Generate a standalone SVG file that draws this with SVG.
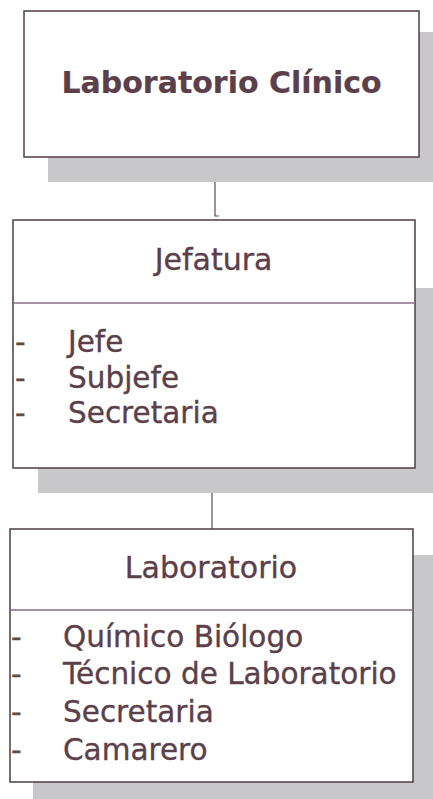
<svg xmlns="http://www.w3.org/2000/svg" width="433" height="799" viewBox="0 0 433 799">
  <style>
    .shadow { fill: #c8c7ca; }
    .box { fill: #ffffff; stroke: #4e3d45; stroke-width: 1.5; }
    .div { stroke: #8a6a86; stroke-width: 1.5; }
    .conn { fill: none; stroke: #5a4a52; stroke-width: 1.2; }
    text { font-family: "DejaVu Sans", Verdana, sans-serif; fill: #5b3f4b; stroke: #5b3f4b; stroke-width: 0.35; }
    .title { font-size: 30px; font-weight: bold; text-anchor: middle; stroke-width: 0.2; }
    .head { font-size: 30px; text-anchor: middle; }
    .item { font-size: 29.5px; }
    .dash { font-size: 29.5px; fill: #5a5040; stroke: #5a5040; }
  </style>
  <rect x="0" y="0" width="433" height="799" fill="#ffffff"/>
  <g id="connectors">
    <path class="conn" d="M215,157 V216 H219"/>
    <path class="conn" d="M212,468 V529"/>
  </g>
  <g id="node-laboratorio-clinico">
    <rect class="shadow" x="48" y="32" width="385" height="150"/>
    <rect class="box" x="24" y="11" width="395" height="146"/>
    <text class="title" x="221.5" y="93">Laboratorio Clínico</text>
  </g>
  <g id="node-jefatura">
    <rect class="shadow" x="38" y="288" width="395" height="205"/>
    <rect class="box" x="13" y="220" width="402" height="248"/>
    <line class="div" x1="13" y1="303" x2="415" y2="303"/>
    <text class="head" x="213.5" y="270">Jefatura</text>
    <text class="dash" x="15" y="352">-</text>
    <text class="item" x="68" y="352">Jefe</text>
    <text class="dash" x="15" y="388">-</text>
    <text class="item" x="68" y="388">Subjefe</text>
    <text class="dash" x="15" y="423">-</text>
    <text class="item" x="68" y="423">Secretaria</text>
  </g>
  <g id="node-laboratorio">
    <rect class="shadow" x="33" y="555" width="400" height="244"/>
    <rect class="box" x="10" y="529" width="403" height="253"/>
    <line class="div" x1="10" y1="610" x2="413" y2="610"/>
    <text class="head" x="211" y="578">Laboratorio</text>
    <text class="dash" x="11" y="647">-</text>
    <text class="item" x="63" y="647">Químico Biólogo</text>
    <text class="dash" x="11" y="684">-</text>
    <text class="item" x="63" y="684">Técnico de Laboratorio</text>
    <text class="dash" x="11" y="722">-</text>
    <text class="item" x="63" y="722">Secretaria</text>
    <text class="dash" x="11" y="760">-</text>
    <text class="item" x="63" y="760">Camarero</text>
  </g>
</svg>
